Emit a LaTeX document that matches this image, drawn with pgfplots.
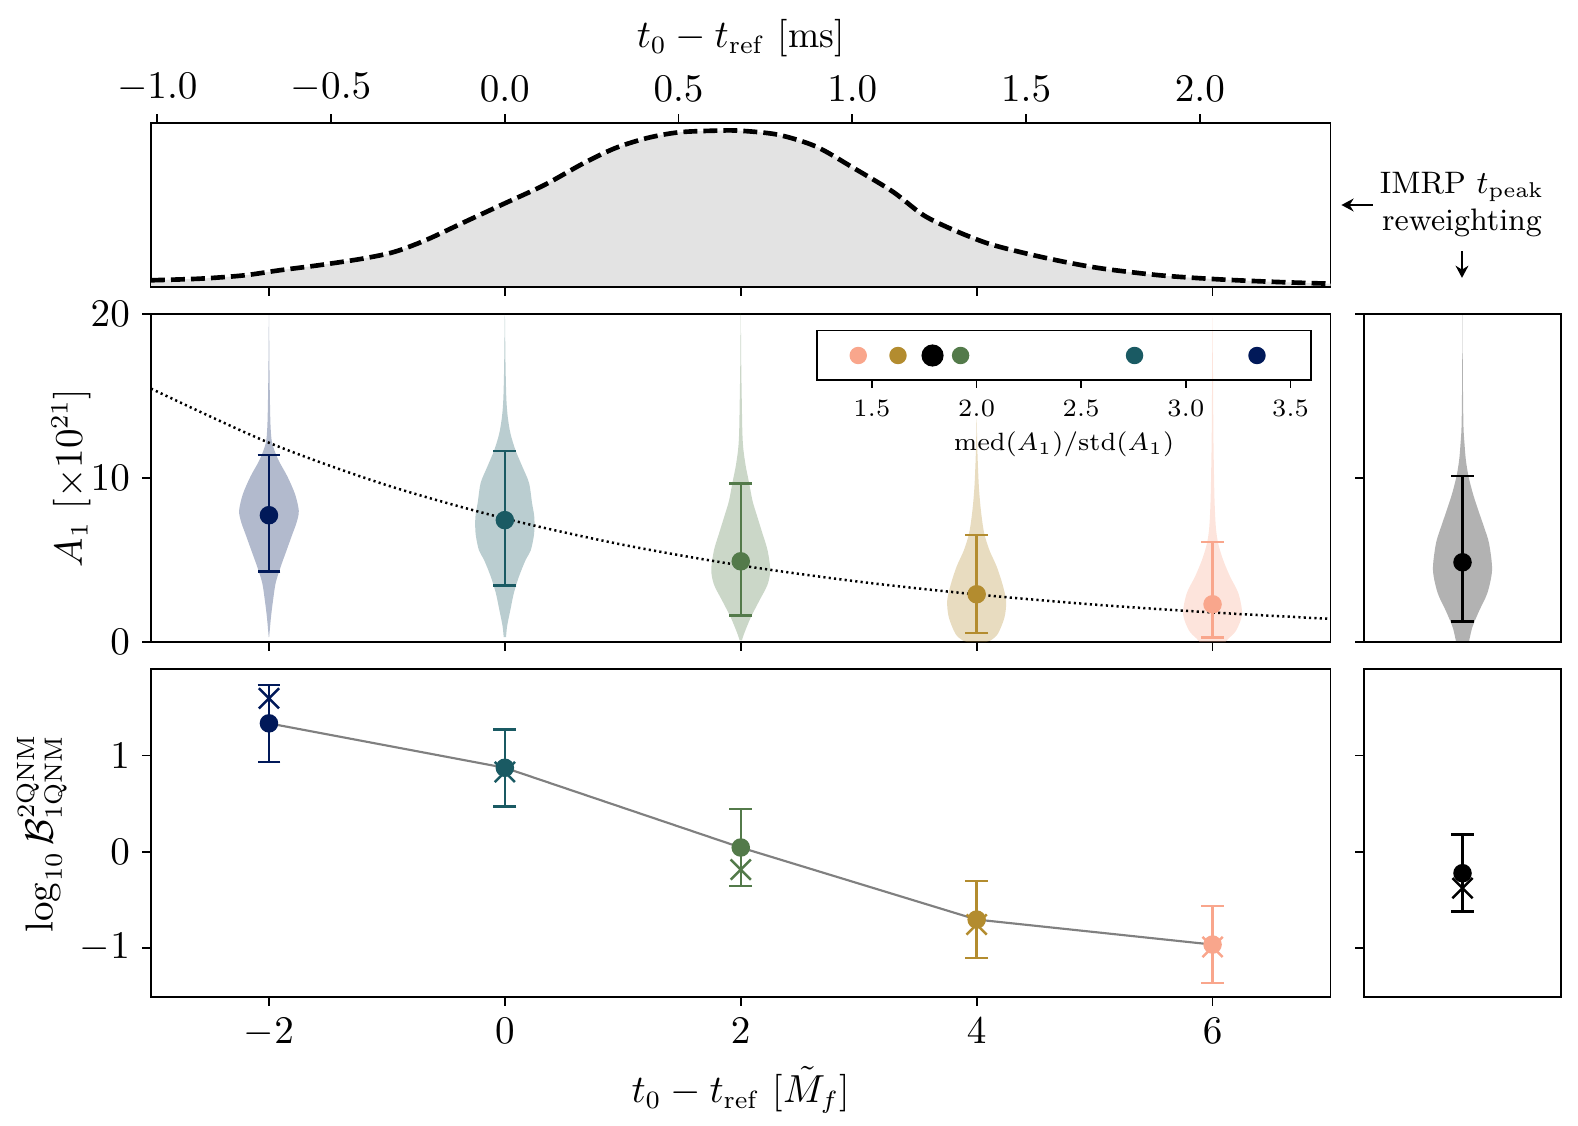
\documentclass[border=0pt]{standalone}
\usepackage{pgfplots}
\pgfplotsset{compat=1.18}
\usetikzlibrary{arrows.meta}

\definecolor{cA}{HTML}{011959}
\definecolor{cB}{HTML}{1A5A63}
\definecolor{cC}{HTML}{537A4A}
\definecolor{cD}{HTML}{B38C2F}
\definecolor{cE}{HTML}{F9A68C}

\pgfplotsset{
  panel/.style={
    scale only axis, anchor=north west,
    axis line style={line width=0.5pt},
    every tick/.style={black, line width=0.5pt},
    tick align=outside, major tick length=2.4pt,
    tick label style={font=\fontsize{10.5}{12}\selectfont},
    label style={font=\fontsize{10.5}{12}\selectfont},
  },
  ebar/.style={only marks, mark=*, mark size=2.24pt, line width=0.7pt,
    error bars/.cd, y dir=both, y explicit,
    error bar style={line width=0.7pt},
    error mark options={rotate=90, mark size=3.2pt, line width=0.7pt}},
  xmark/.style={only marks, mark=x, mark size=4pt, line width=0.7pt},
}

\begin{document}
\begin{tikzpicture}
\path[use as bounding box] (0,0) rectangle (441.84pt,-315.28pt);

% ---- top panel: t_peak distribution in ms
\begin{axis}[panel, at={(42.28pt,-34.44pt)}, width=330.26pt, height=45.92pt,
  xmin=-1.018, xmax=2.376, ymin=0, ymax=1, ytick=\empty,
  xtick={-1,-0.5,0,0.5,1,1.5,2},
  xtick pos=right, xticklabel pos=right,
  xticklabel style={/pgf/number format/.cd, fixed, fixed zerofill, precision=1},
  xlabel={$t_0 - t_{\mathrm{ref}}$ [ms]}, xlabel shift=-2.2pt]
\addplot[fill=black!11, draw=none, smooth] coordinates {
(-1.018,0.041) (-0.875,0.051) (-0.75,0.071) (-0.648,0.102) (-0.534,0.133)
(-0.409,0.173) (-0.318,0.214) (-0.227,0.286) (-0.114,0.398) (0.0,0.510)
(0.114,0.622) (0.227,0.755) (0.318,0.847) (0.409,0.908) (0.5,0.943)
(0.602,0.953) (0.675,0.953) (0.785,0.929) (0.895,0.857) (1.005,0.724)
(1.116,0.582) (1.204,0.439) (1.292,0.347) (1.391,0.265) (1.501,0.204)
(1.611,0.153) (1.721,0.112) (1.887,0.071) (2.052,0.047) (2.217,0.031)
(2.376,0.02)} \closedcycle;
\addplot[black, line width=1.3pt, dash pattern=on 3.9pt off 1.7pt, smooth] coordinates {
(-1.018,0.041) (-0.875,0.051) (-0.75,0.071) (-0.648,0.102) (-0.534,0.133)
(-0.409,0.173) (-0.318,0.214) (-0.227,0.286) (-0.114,0.398) (0.0,0.510)
(0.114,0.622) (0.227,0.755) (0.318,0.847) (0.409,0.908) (0.5,0.943)
(0.602,0.953) (0.675,0.953) (0.785,0.929) (0.895,0.857) (1.005,0.724)
(1.116,0.582) (1.204,0.439) (1.292,0.347) (1.391,0.265) (1.501,0.204)
(1.611,0.153) (1.721,0.112) (1.887,0.071) (2.052,0.047) (2.217,0.031)
(2.376,0.02)};
\end{axis}
% bottom ticks of the top panel in M_f units
\begin{axis}[panel, at={(42.28pt,-34.44pt)}, width=330.26pt, height=45.92pt,
  xmin=-3, xmax=7, ymin=0, ymax=1,
  axis x line*=bottom, axis y line=none,
  xtick={-2,0,2,4,6}, xticklabels={}]
\addplot[draw=none] coordinates {(0,0.5)};
\end{axis}

% ---- middle panel: A_1 violins (columns: value, signed half-width)
\begin{axis}[panel, at={(42.28pt,-87.92pt)}, width=330.26pt, height=91.84pt,
  xmin=-3, xmax=7, ymin=0, ymax=20,
  xtick={-2,0,2,4,6}, xticklabels={}, ytick={0,10,20},
  xtick pos=left, ytick pos=left,
  ylabel={$A_1$ [$\times 10^{21}$]}, ylabel shift=-7pt]
\addplot[fill=cA, fill opacity=0.3, draw=none, smooth] table[x expr=-2+\thisrow{s}, y=y] {
y s
0.3 0.002
1.5 0.017
2.5 0.034
3.6 0.057
4.6 0.10
5.4 0.14
6.6 0.20
7.3 0.235
8.0 0.253
9.0 0.222
10.1 0.156
11.1 0.08
12.1 0.028
13.1 0.014
14.8 0.008
17.0 0.004
19.8 0.001
19.8 -0.001
17.0 -0.004
14.8 -0.008
13.1 -0.014
12.1 -0.028
11.1 -0.08
10.1 -0.156
9.0 -0.222
8.0 -0.253
7.3 -0.235
6.6 -0.20
5.4 -0.14
4.6 -0.10
3.6 -0.057
2.5 -0.034
1.5 -0.017
0.3 -0.002
};
\addplot[fill=cB, fill opacity=0.3, draw=none, smooth] table[x expr=0+\thisrow{s}, y=y] {
y s
0.3 0.01
1.0 0.02
2.0 0.048
3.0 0.077
4.0 0.12
5.0 0.176
5.6 0.22
6.6 0.248
7.6 0.25
8.5 0.23
9.7 0.205
10.7 0.148
11.7 0.09
12.7 0.048
13.7 0.025
14.8 0.013
16.8 0.006
19.8 0.001
19.8 -0.001
16.8 -0.006
14.8 -0.013
13.7 -0.025
12.7 -0.048
11.7 -0.09
10.7 -0.148
9.7 -0.205
8.5 -0.23
7.6 -0.25
6.6 -0.248
5.6 -0.22
5.0 -0.176
4.0 -0.12
3.0 -0.077
2.0 -0.048
1.0 -0.02
0.3 -0.01
};
\addplot[fill=cC, fill opacity=0.3, draw=none, smooth] table[x expr=2+\thisrow{s}, y=y] {
y s
0.1 0.01
0.5 0.028
1.5 0.085
2.5 0.156
3.5 0.227
4.4 0.25
5.6 0.227
6.6 0.185
7.6 0.142
8.6 0.10
9.7 0.071
10.7 0.043
11.7 0.023
12.7 0.014
14.8 0.0085
17.0 0.004
19.8 0.001
19.8 -0.001
17.0 -0.004
14.8 -0.0085
12.7 -0.014
11.7 -0.023
10.7 -0.043
9.7 -0.071
8.6 -0.10
7.6 -0.142
6.6 -0.185
5.6 -0.227
4.4 -0.25
3.5 -0.227
2.5 -0.156
1.5 -0.085
0.5 -0.028
0.1 -0.01
};
\addplot[fill=cD, fill opacity=0.3, draw=none, smooth] table[x expr=4+\thisrow{s}, y=y] {
y s
0.0 0.08
0.1 0.12
0.5 0.18
1.5 0.236
2.5 0.25
3.5 0.22
4.6 0.17
5.6 0.108
6.6 0.065
7.6 0.043
8.6 0.028
9.7 0.017
11.7 0.006
13.5 0.001
13.5 -0.001
11.7 -0.006
9.7 -0.017
8.6 -0.028
7.6 -0.043
6.6 -0.065
5.6 -0.108
4.6 -0.17
3.5 -0.22
2.5 -0.25
1.5 -0.236
0.5 -0.18
0.1 -0.12
0.0 -0.08
};
\addplot[fill=cE, fill opacity=0.3, draw=none, smooth] table[x expr=6+\thisrow{s}, y=y] {
y s
0.0 0.11
0.2 0.134
0.7 0.2
1.7 0.25
2.95 0.22
4.0 0.148
5.0 0.09
6.0 0.048
7.0 0.028
8.6 0.017
10.7 0.011
12.7 0.007
16.0 0.004
19.5 0.001
19.5 -0.001
16.0 -0.004
12.7 -0.007
10.7 -0.011
8.6 -0.017
7.0 -0.028
6.0 -0.048
5.0 -0.09
4.0 -0.148
2.95 -0.22
1.7 -0.25
0.7 -0.2
0.2 -0.134
0.0 -0.11
};
\addplot[black, line width=0.7pt, dash pattern=on 0.6pt off 0.9pt, smooth] coordinates {
(-3,15.45) (-2,12.15) (-1,9.56) (0,7.53) (1,5.93) (2,4.67) (3,3.68)
(4,2.90) (5,2.28) (6,1.80) (7,1.41)};
\addplot[cA, ebar] coordinates {(-2,7.73) += (0,3.66) -= (0,3.42)};
\addplot[cB, ebar] coordinates {(0,7.43) += (0,4.23) -= (0,3.97)};
\addplot[cC, ebar] coordinates {(2,4.92) += (0,4.74) -= (0,3.31)};
\addplot[cD, ebar] coordinates {(4,2.91) += (0,3.60) -= (0,2.36)};
\addplot[cE, ebar] coordinates {(6,2.30) += (0,3.80) -= (0,2.04)};
\end{axis}

% ---- inset: med/std
\begin{axis}[scale only axis, anchor=north west,
  at={(228.76pt,-92.57pt)}, width=138.32pt, height=13.94pt,
  axis line style={line width=0.5pt},
  every tick/.style={black, line width=0.5pt},
  tick align=outside, major tick length=2pt,
  tick label style={font=\fontsize{7.4}{9}\selectfont},
  label style={font=\fontsize{7.4}{9}\selectfont},
  xmin=1.238, xmax=3.598, ymin=-1, ymax=1, ytick=\empty,
  xtick={1.5,2,2.5,3,3.5}, xtick pos=left,
  xticklabel style={/pgf/number format/.cd, fixed, fixed zerofill, precision=1},
  xlabel={$\mathrm{med}(A_1)/\mathrm{std}(A_1)$},
  xlabel style={yshift=2.5pt}]
\addplot[cE, only marks, mark=*, mark size=2.24pt] coordinates {(1.435,0)};
\addplot[cD, only marks, mark=*, mark size=2.24pt] coordinates {(1.625,0)};
\addplot[black, only marks, mark=*, mark size=2.9pt] coordinates {(1.790,0)};
\addplot[cC, only marks, mark=*, mark size=2.24pt] coordinates {(1.924,0)};
\addplot[cB, only marks, mark=*, mark size=2.24pt] coordinates {(2.755,0)};
\addplot[cA, only marks, mark=*, mark size=2.24pt] coordinates {(3.340,0)};
\end{axis}

% ---- bottom panel: log10 Bayes factor
\begin{axis}[panel, at={(42.28pt,-187.32pt)}, width=330.26pt, height=91.84pt,
  xmin=-3, xmax=7, ymin=-1.51, ymax=1.90,
  xtick={-2,0,2,4,6}, ytick={-1,0,1},
  xtick pos=left, ytick pos=left,
  xlabel={$t_0 - t_{\mathrm{ref}}$ [$\tilde{M}_f$]}, xlabel shift=-1.4pt,
  ylabel={$\log_{10}\mathcal{B}^{\mathrm{2QNM}}_{\mathrm{1QNM}}$}, ylabel shift=-3.2pt]
\addplot[gray, line width=0.6pt] coordinates {
(-2,1.335) (0,0.873) (2,0.044) (4,-0.705) (6,-0.965)};
\addplot[cA, ebar] coordinates {(-2,1.335) +- (0,0.4)};
\addplot[cB, ebar] coordinates {(0,0.873) +- (0,0.4)};
\addplot[cC, ebar] coordinates {(2,0.044) +- (0,0.4)};
\addplot[cD, ebar] coordinates {(4,-0.705) +- (0,0.4)};
\addplot[cE, ebar] coordinates {(6,-0.965) +- (0,0.4)};
\addplot[cA, xmark] coordinates {(-2,1.595)};
\addplot[cB, xmark] coordinates {(0,0.83)};
\addplot[cC, xmark] coordinates {(2,-0.185)};
\addplot[cD, xmark] coordinates {(4,-0.757)};
\addplot[cE, xmark] coordinates {(6,-0.99)};
\end{axis}

% ---- right middle: reweighted violin
\begin{axis}[panel, at={(381.92pt,-87.92pt)}, width=55.16pt, height=91.84pt,
  xmin=-1, xmax=1, ymin=0, ymax=20,
  xtick=\empty, ytick={0,10,20}, yticklabels={}, ytick pos=left]
\addplot[fill=black, fill opacity=0.3, draw=none, smooth] table[x expr=\thisrow{s}, y=y] {
y s
0.0 0.065
0.9 0.10
1.9 0.169
3.0 0.253
4.4 0.30
6.0 0.27
7.0 0.219
8.0 0.162
9.0 0.108
10.1 0.061
11.1 0.034
12.1 0.02
13.1 0.01
15.2 0.005
18.0 0.002
20.0 0.0005
20.0 -0.0005
18.0 -0.002
15.2 -0.005
13.1 -0.01
12.1 -0.02
11.1 -0.034
10.1 -0.061
9.0 -0.108
8.0 -0.162
7.0 -0.219
6.0 -0.27
4.4 -0.30
3.0 -0.253
1.9 -0.169
0.9 -0.10
0.0 -0.065
};
\addplot[black, ebar] coordinates {(0,4.86) += (0,5.27) -= (0,3.62)};
\end{axis}

% ---- right bottom
\begin{axis}[panel, at={(381.92pt,-187.32pt)}, width=55.16pt, height=91.84pt,
  xmin=-1, xmax=1, ymin=-1.51, ymax=1.90,
  xtick=\empty, ytick={-1,0,1}, yticklabels={}, ytick pos=left]
\addplot[black, ebar] coordinates {(0,-0.223) +- (0,0.4)};
\addplot[black, xmark] coordinates {(0,-0.379)};
\end{axis}

% ---- annotation
\begin{scope}[font=\fontsize{8.7}{10}\selectfont]
\node at (409.36pt,-52.36pt) {IMRP $t_{\mathrm{peak}}$};
\node at (409.36pt,-62.3pt) {reweighting};
\end{scope}
\draw[-{Stealth[length=3.4pt,width=3.6pt]}, line width=0.75pt]
  (384.4pt,-57.4pt) -- (375.6pt,-57.4pt);
\draw[-{Stealth[length=3.4pt,width=3.6pt]}, line width=0.75pt]
  (409.36pt,-70.4pt) -- (409.36pt,-77.8pt);
\end{tikzpicture}
\end{document}
